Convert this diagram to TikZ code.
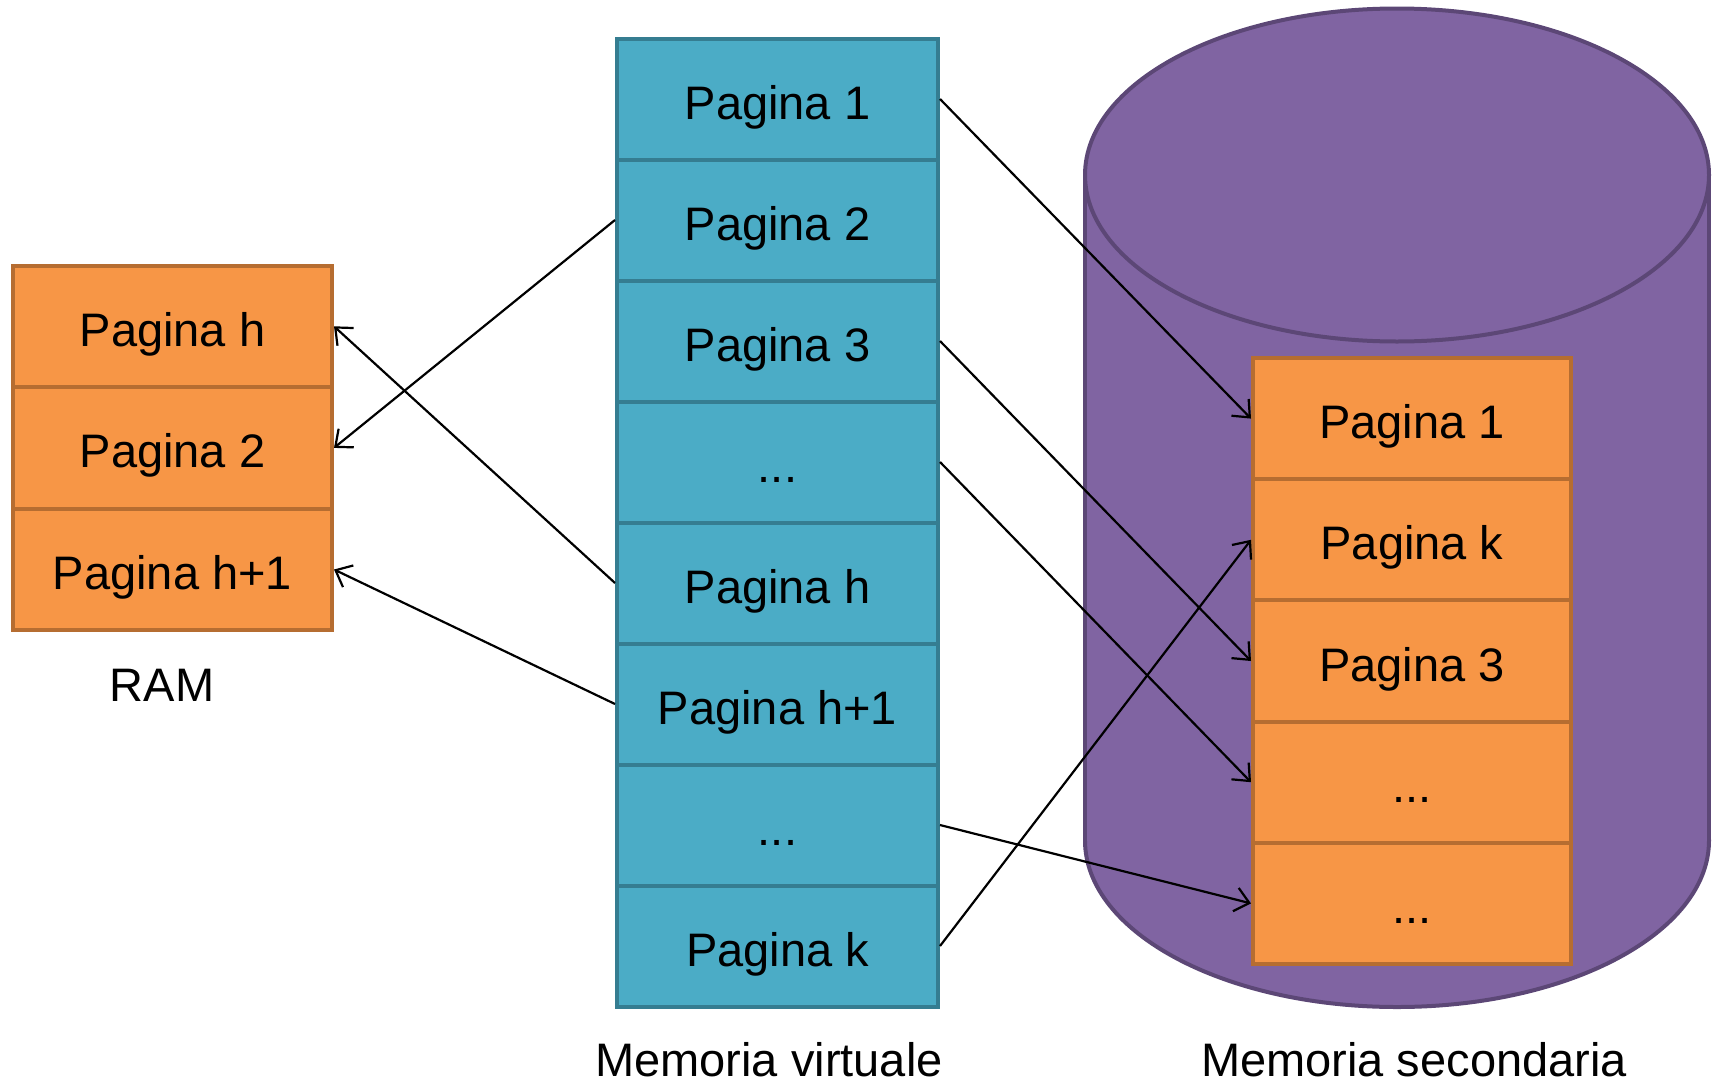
\documentclass[tikz,border=0pt]{standalone}
\usepackage{fontspec}
\setmainfont{Liberation Sans}
\usetikzlibrary{arrows.meta}

\definecolor{orangefill}{HTML}{F79646}
\definecolor{orangeline}{HTML}{B66D31}
\definecolor{bluefill}{HTML}{4BACC6}
\definecolor{blueline}{HTML}{357D91}
\definecolor{purplefill}{HTML}{8064A2}
\definecolor{purpleline}{HTML}{5C4776}

\newcommand{\cellfont}{\fontsize{47}{56}\selectfont}

\tikzset{
  cell/.style={rectangle, line width=4pt, inner sep=0pt,
    text height=44pt, text depth=4pt, font=\cellfont},
  ramcell/.style={cell, draw=orangeline, fill=orangefill,
    minimum width=319pt, minimum height=121.6pt},
  vmcell/.style={cell, draw=blueline, fill=bluefill,
    minimum width=321pt, minimum height=121pt},
  seccell/.style={cell, draw=orangeline, fill=orangefill,
    minimum width=318pt, minimum height=121.2pt},
  caption/.style={anchor=base, inner sep=0pt, text depth=0pt, font=\cellfont},
  link/.style={line width=2.2pt, -{Straight Barb[length=14pt, width=24pt, line width=2.2pt]}}
}

\begin{document}
\begin{tikzpicture}[x=1pt, y=-1pt]
  \useasboundingbox (0,0) rectangle (1713,1084);

  % secondary storage drum
  \fill[purplefill, draw=purpleline, line width=4pt]
    (1397,840.5) ellipse [x radius=312, y radius=166.5];
  \fill[purplefill] (1085,175) rectangle (1709,840.5);
  \draw[purpleline, line width=4pt] (1085,175) -- (1085,840.5);
  \draw[purpleline, line width=4pt] (1709,175) -- (1709,840.5);
  \fill[purplefill, draw=purpleline, line width=4pt]
    (1397,175) ellipse [x radius=312, y radius=166.5];

  % RAM
  \node[ramcell] (r1) at (172.5,326.3) {Pagina h};
  \node[ramcell] (r2) at (172.5,447.9) {Pagina 2};
  \node[ramcell] (r3) at (172.5,569.5) {Pagina h+1};
  \node[caption] (ramlabel) at (162,701) {RAM};

  % virtual memory
  \node[vmcell] (v1) at (777.5,99)  {Pagina 1};
  \node[vmcell] (v2) at (777.5,220) {Pagina 2};
  \node[vmcell] (v3) at (777.5,341) {Pagina 3};
  \node[vmcell] (v4) at (777.5,462) {...};
  \node[vmcell] (v5) at (777.5,583) {Pagina h};
  \node[vmcell] (v6) at (777.5,704) {Pagina h+1};
  \node[vmcell] (v7) at (777.5,825) {...};
  \node[vmcell] (v8) at (777.5,946) {Pagina k};
  \node[caption] (vmlabel) at (769,1076) {Memoria virtuale};

  % secondary memory pages
  \node[seccell] (s1) at (1412,418.6) {Pagina 1};
  \node[seccell] (s2) at (1412,539.8) {Pagina k};
  \node[seccell] (s3) at (1412,661)   {Pagina 3};
  \node[seccell] (s4) at (1412,782.2) {...};
  \node[seccell] (s5) at (1412,903.4) {...};
  \node[caption] (seclabel) at (1414,1076) {Memoria secondaria};

  % page mappings
  \draw[link] (v2.west) -- (r2.east);
  \draw[link] (v5.west) -- (r1.east);
  \draw[link] (v6.west) -- (r3.east);
  \draw[link] (v1.east) -- (s1.west);
  \draw[link] (v3.east) -- (s3.west);
  \draw[link] (v4.east) -- (s4.west);
  \draw[link] (v7.east) -- (s5.west);
  \draw[link] (v8.east) -- (s2.west);
\end{tikzpicture}
\end{document}
